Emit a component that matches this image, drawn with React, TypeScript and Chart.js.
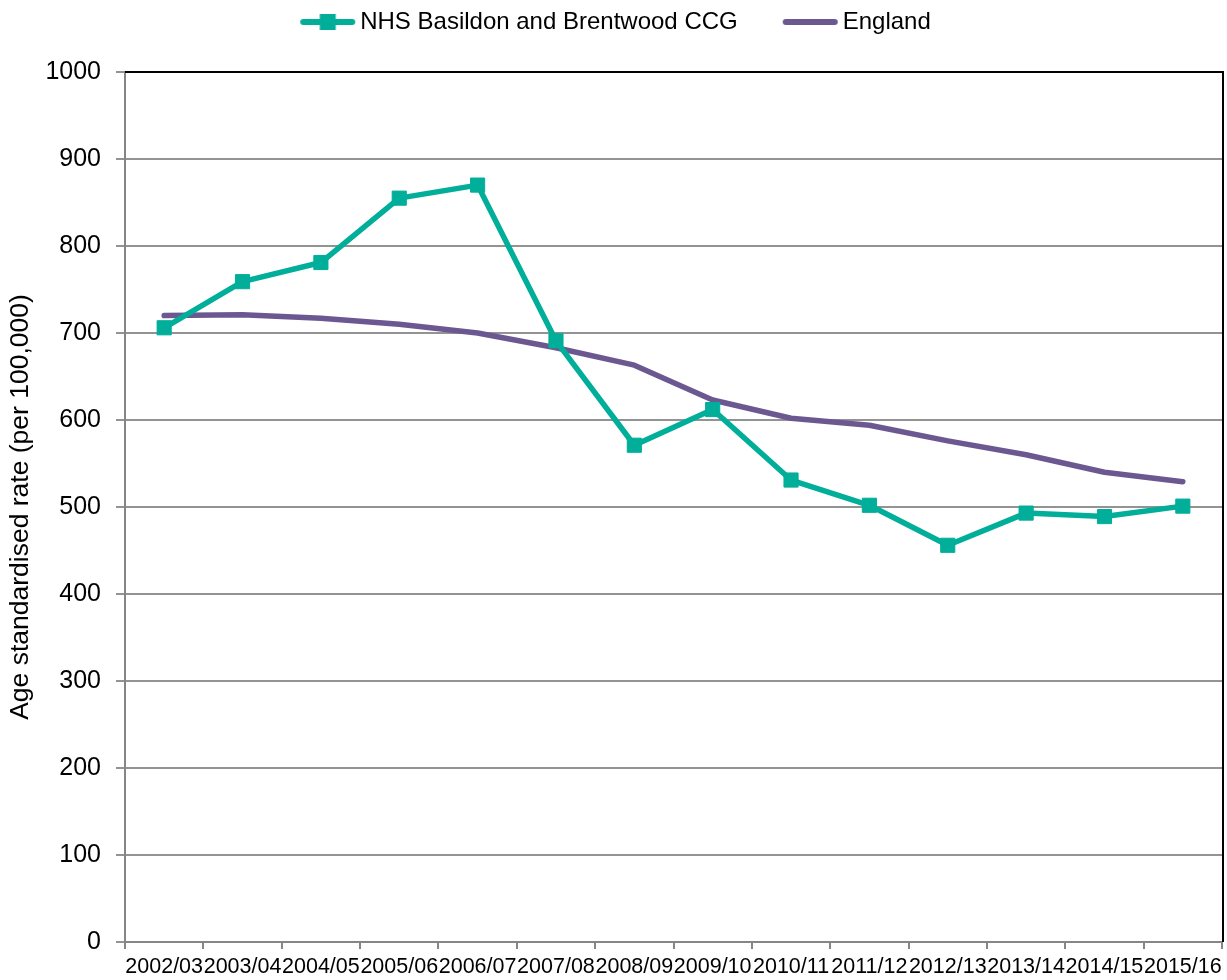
import React, { useEffect, useRef } from 'react';
import { Chart, registerables } from 'chart.js';

Chart.register(...registerables);

const categories = [
  '2002/03', '2003/04', '2004/05', '2005/06', '2006/07', '2007/08', '2008/09',
  '2009/10', '2010/11', '2011/12', '2012/13', '2013/14', '2014/15', '2015/16',
];
const ccgValues = [706, 759, 781, 855, 870, 691, 571, 612, 531, 502, 456, 493, 489, 501];
const englandValues = [720, 721, 717, 710, 700, 683, 663, 623, 602, 594, 576, 560, 540, 529];
const seriesNames = ['NHS Basildon and Brentwood CCG', 'England'];
const yMin = 0;
const yMax = 1000;
const yStep = 100;
const yTitle = 'Age standardised rate (per 100,000)';

const TEAL = '#00AE9A';
const PURPLE = '#6C5891';
const GRID = '#939393';
const AXIS = '#868686';
const FONT = "'Liberation Sans', Arial, sans-serif";

function makeIcon(color: string, withSquare: boolean): HTMLCanvasElement {
  const c = document.createElement('canvas');
  c.width = 77;
  c.height = 24;
  const ctx = c.getContext('2d')!;
  ctx.strokeStyle = color;
  ctx.lineWidth = 6;
  ctx.lineCap = 'round';
  ctx.beginPath();
  ctx.moveTo(22, 12);
  ctx.lineTo(71, 12);
  ctx.stroke();
  if (withSquare) {
    ctx.fillStyle = color;
    ctx.fillRect(46.5 - 8, 12 - 8, 16, 16);
  }
  return c;
}

const plotBorder = {
  id: 'plotBorder',
  beforeDatasetsDraw(chart: any) {
    const { ctx, chartArea } = chart;
    const { left, top, right, bottom } = chartArea;
    ctx.save();
    ctx.strokeStyle = '#000';
    ctx.lineWidth = 2;
    ctx.beginPath();
    ctx.moveTo(left, top);
    ctx.lineTo(right + 1, top);
    ctx.lineTo(right + 1, bottom);
    ctx.stroke();
    ctx.restore();
  },
};

export default function App() {
  const ref = useRef<HTMLCanvasElement | null>(null);

  useEffect(() => {
    if (!ref.current) return;
    const icons = [makeIcon(TEAL, true), makeIcon(PURPLE, false)];
    const chart = new Chart(ref.current, {
      type: 'line',
      data: {
        labels: categories,
        datasets: [
          {
            label: seriesNames[0],
            data: ccgValues,
            borderColor: TEAL,
            backgroundColor: TEAL,
            borderWidth: 5.5,
            pointStyle: 'rect',
            pointRadius: 10,
            pointBorderWidth: 1,
            pointBorderColor: TEAL,
            pointBackgroundColor: TEAL,
            borderJoinStyle: 'round',
            tension: 0,
          },
          {
            label: seriesNames[1],
            data: englandValues,
            borderColor: PURPLE,
            backgroundColor: PURPLE,
            borderWidth: 5.5,
            pointRadius: 0,
            borderCapStyle: 'round',
            borderJoinStyle: 'round',
            tension: 0,
          },
        ],
      },
      options: {
        responsive: false,
        animation: false,
        layout: { autoPadding: false, padding: { top: -26, right: 5, left: 0, bottom: 0 } },
        plugins: {
          legend: {
            display: true,
            position: 'top',
            align: 'center',
            labels: {
              usePointStyle: true,
              pointStyleWidth: 57,
              padding: 36,
              color: '#000',
              font: { family: FONT, size: 24 },
              generateLabels: (c: any) => {
                const items = Chart.defaults.plugins.legend.labels.generateLabels(c);
                return items.map((it: any, i: number) => ({ ...it, pointStyle: icons[i] }));
              },
            },
          },
          title: {
            display: true,
            text: '',
            weight: 500,
            padding: 0,
            font: { size: 20, lineHeight: 1.4 },
          } as any,
          tooltip: { enabled: false },
        },
        scales: {
          x: {
            type: 'category',
            offset: true,
            afterFit: (s: any) => {
              s.height = 38;
              s.paddingLeft = 0;
              s.paddingRight = 0;
            },
            grid: {
              offset: true,
              drawOnChartArea: false,
              drawTicks: true,
              tickLength: 7,
              color: AXIS,
              lineWidth: 2,
            },
            border: { display: true, color: AXIS, width: 2 },
            ticks: {
              autoSkip: false,
              maxRotation: 0,
              minRotation: 0,
              padding: 0,
              color: '#000',
              font: { family: FONT, size: 21.5, lineHeight: 1.7 },
            },
          },
          y: {
            min: yMin,
            max: yMax,
            afterFit: (s: any) => {
              s.width = 125;
            },
            grid: {
              drawOnChartArea: true,
              drawTicks: true,
              tickLength: 9,
              color: GRID,
              lineWidth: 2,
            },
            border: { display: true, color: AXIS, width: 2 },
            ticks: {
              stepSize: yStep,
              padding: 15,
              color: '#000',
              font: { family: FONT, size: 25 },
              callback: (v: any) => String(v),
            },
            title: {
              display: true,
              text: yTitle,
              color: '#000',
              padding: { top: 5, bottom: 0 },
              font: { family: FONT, size: 26.5 },
            },
          },
        },
      },
      plugins: [plotBorder],
    });
    return () => chart.destroy();
  }, []);

  return (
    <div style={{ position: 'absolute', left: 0, top: 0, width: 1227, height: 980, background: '#fff' }}>
      <canvas ref={ref} width={1227} height={980} />
    </div>
  );
}
